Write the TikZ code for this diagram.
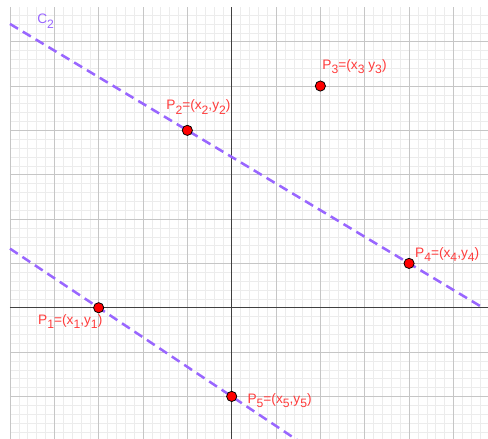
\documentclass[tikz,border=0pt]{standalone}
\usepackage{fontspec}
\setmainfont{Liberation Sans}
\usetikzlibrary{calc}
\definecolor{ptred}{RGB}{255,0,0}
\definecolor{lblred}{RGB}{255,60,60}
\definecolor{lineviolet}{RGB}{153,102,255}
\newcommand{\lsub}[1]{\raisebox{-2.7pt}{\fontsize{7.8}{8}\selectfont #1}}

\begin{document}
\begin{tikzpicture}[x=1cm, y=1cm,
    minorgrid/.style={gray!15, line width=0.35pt},
    majorgrid/.style={gray!45, line width=0.6pt},
    axisline/.style={black!75, line width=0.8pt},
    dashline/.style={lineviolet, line width=1.6pt, dash pattern=on 6pt off 3.6pt},
    pt/.style={circle, fill=ptred, draw=black, line width=0.5pt, inner sep=0pt, minimum size=0.23cm},
    lbl/.style={text=lblred, font=\fontsize{8.8}{10}\selectfont, anchor=base west, inner sep=0pt}]
  \clip (-5.225,-2.939) rectangle (5.78,6.94);
  % grid and axes
  \draw[minorgrid, step=0.2] (-5,-3) grid (5.8,6.78);
  \draw[majorgrid, step=1] (-5,-3) grid (5.8,6.78);
  \draw[axisline] (-5,0) -- (5.8,0);
  \draw[axisline] (0,-3) -- (0,6.78);
  % the five points
  \coordinate (p1) at (-3,0);
  \coordinate (p2) at (-1,4);
  \coordinate (p3) at (2,5);
  \coordinate (p4) at (4,1);
  \coordinate (p5) at (0,-2);
  % C_2 through P_2, P_4 and the line through P_1, P_5
  \draw[dashline] ($(p2)!-0.8!(p4)$) -- ($(p2)!4/3!(p4)$);
  \draw[dashline] ($(p1)!-2/3!(p5)$) -- ($(p1)!1.6!(p5)$);
  \node[lbl, text=lineviolet] (C2) at (-4.39,6.40) {C\lsub{2}};
  \foreach \i in {1,...,5} {
    \node[pt] (P\i) at (p\i) {};
  }
  \node[lbl] (L1) at ($(P1)+(-1.37,-0.37)$) {P\lsub{1}=(x\lsub{1},y\lsub{1})};
  \node[lbl] (L2) at ($(P2)+(-0.48,0.46)$) {P\lsub{2}=(x\lsub{2},y\lsub{2})};
  \node[lbl] (L3) at ($(P3)+(0.04,0.38)$) {P\lsub{3}=(x\lsub{3} y\lsub{3})};
  \node[lbl] (L4) at ($(P4)+(0.13,0.14)$) {P\lsub{4}=(x\lsub{4},y\lsub{4})};
  \node[lbl] (L5) at ($(P5)+(0.35,-0.15)$) {P\lsub{5}=(x\lsub{5},y\lsub{5})};
\end{tikzpicture}
\end{document}
